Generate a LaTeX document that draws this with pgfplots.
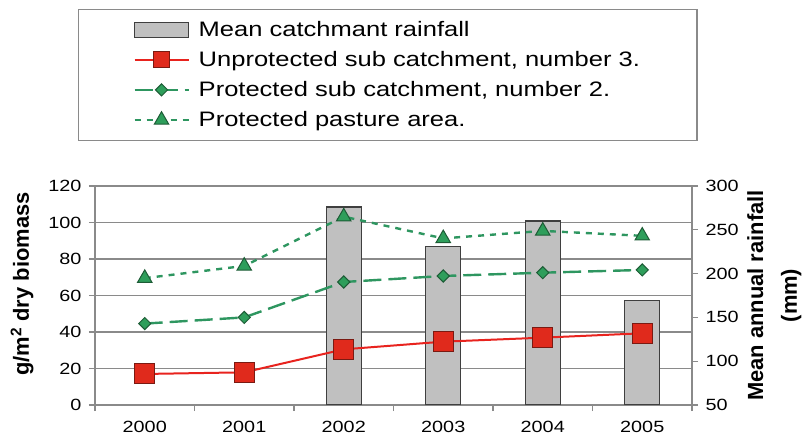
\documentclass[border=0pt]{standalone}
\usepackage{pgfplots}
\pgfplotsset{compat=1.18}
\usepackage{fontspec}
\setmainfont{Liberation Sans}[FakeStretch=1.22]
\newfontfamily\labelfont{Liberation Sans}

\definecolor{barfill}{HTML}{C0C0C0}
\definecolor{bardraw}{HTML}{3F3F3F}
\definecolor{redline}{HTML}{E8231E}
\definecolor{redfill}{HTML}{E02A1C}
\definecolor{reddraw}{HTML}{7A1A12}
\definecolor{greenline}{HTML}{2E9660}
\definecolor{greenfill}{HTML}{2E9E5B}
\definecolor{greendraw}{HTML}{1D5C36}
\definecolor{gridgray}{HTML}{8A8A8A}

\tikzset{axlabel/.style={font=\labelfont\bfseries\fontsize{22}{34}\selectfont, align=center, anchor=center}}

\pgfplotsset{
  common/.style={
    scale only axis, width=597bp, height=219bp,
    xmin=-0.5, xmax=5.5,
    /pgf/number format/assume math mode=true,
    tick label style={font=\fontsize{16.3}{18}\selectfont, text=black},
    tick align=outside, major tick length=6bp,
    tick style={gridgray, line width=1.1bp},
    axis line style={gridgray, line width=1.1bp},
  },
}

\begin{document}
\begin{tikzpicture}
% left axis, frame and grid
\begin{axis}[common,
    ymin=0, ymax=120, ytick={0,20,...,120}, ytick pos=left,
    ymajorgrids, grid style={gridgray, line width=1.1bp},
    xtick={-0.5,0.5,1.5,2.5,3.5,4.5,5.5}, xticklabels={}, xtick pos=bottom,
    extra x ticks={0,1,2,3,4,5},
    extra x tick labels={2000,2001,2002,2003,2004,2005},
    extra x tick style={major tick length=0pt, grid=none},
    xticklabel style={yshift=-13bp},
    yticklabel style={xshift=-4bp},
    ylabel={g/m\textsuperscript{2} dry biomass},
    ylabel style={axlabel, at={(rel axis cs:-0.1223,0.553)}},
]
\end{axis}

% rainfall bars, right axis
\begin{axis}[common,
    ymin=50, ymax=300, ytick={50,100,...,300},
    axis y line*=right, axis x line=none,
    yticklabel style={xshift=4bp},
    ybar, bar width=35bp,
    ylabel={Mean annual rainfall\\(mm)},
    ylabel style={axlabel, at={(rel axis cs:1.138,0.5)}},
]
\addplot[fill=barfill, draw=bardraw, line width=1.1bp, bar shift=0pt]
  coordinates {(2,276) (3,231) (4,260) (5,169)};
\end{axis}

% biomass lines
\begin{axis}[common,
    ymin=0, ymax=120, hide axis,
    legend image code/.code={\draw[mark repeat=2,mark phase=2,#1] plot coordinates {(0bp,0bp) (27bp,0bp) (54bp,0bp)};},
    legend cell align=left,
    legend style={at={(-0.029,1.81)}, anchor=north west,
      draw=gridgray, line width=1.3bp,
      font=\fontsize{21}{21}\selectfont,
      inner xsep=55bp, inner ysep=10bp,
      row sep=9.5bp, column sep=7bp},
]
\addlegendimage{legend image code/.code={\draw[fill=barfill,draw=bardraw,line width=1.1bp] (0bp,-7.5bp) rectangle (54bp,7.5bp);}}
\addlegendentry{Mean catchmant rainfall}
\addplot[redline, line width=2bp, mark=square*, mark size=10bp,
    mark options={fill=redfill, draw=reddraw, line width=1bp},
    legend image post style={mark size=8bp}]
  coordinates {(0,17.0) (1,17.9) (2,30.5) (3,34.7) (4,36.9) (5,39.3)};
\addlegendentry{Unprotected sub catchment, number 3.}
\addplot[greenline, line width=2.4bp, dash pattern=on 18bp off 7bp,
    mark=square*, mark size=4.3bp,
    mark options={rotate=45, solid, fill=greenfill, draw=greendraw, line width=1bp}]
  coordinates {(0,44.6) (1,48.0) (2,67.4) (3,70.7) (4,72.5) (5,74.0)};
\addlegendentry{Protected sub catchment, number 2.}
\addplot[greenline, line width=2.4bp, dash pattern=on 6bp off 6bp,
    mark=triangle*, mark size=8.3bp,
    mark options={solid, fill=greenfill, draw=greendraw, line width=1bp}]
  coordinates {(0,69.5) (1,76.2) (2,103.2) (3,91.3) (4,95.4) (5,92.7)};
\addlegendentry{Protected pasture area.}
\end{axis}

\pgfresetboundingbox
\path[use as bounding box] (-95bp,-31bp) rectangle (708bp,405bp);
\end{tikzpicture}
\end{document}
